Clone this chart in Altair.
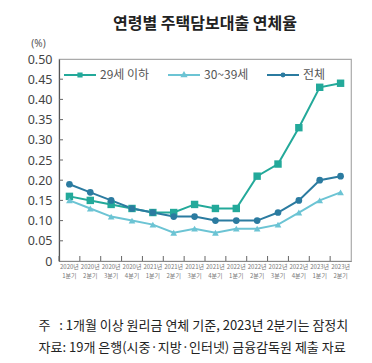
import altair as alt
import pandas as pd

quarters = ["2020년 1분기", "2020년 2분기", "2020년 3분기", "2020년 4분기",
            "2021년 1분기", "2021년 2분기", "2021년 3분기", "2021년 4분기",
            "2022년 1분기", "2022년 2분기", "2022년 3분기", "2022년 4분기",
            "2023년 1분기", "2023년 2분기"]
series_names = ["29세 이하", "30~39세", "전체"]
age_29 = [0.16, 0.15, 0.14, 0.13, 0.12, 0.12, 0.14, 0.13, 0.13, 0.21, 0.24, 0.33, 0.43, 0.44]
age_30s = [0.15, 0.13, 0.11, 0.10, 0.09, 0.07, 0.08, 0.07, 0.08, 0.08, 0.09, 0.12, 0.15, 0.17]
total = [0.19, 0.17, 0.15, 0.13, 0.12, 0.11, 0.11, 0.10, 0.10, 0.10, 0.12, 0.15, 0.20, 0.21]
y_ticks = [0.05, 0.10, 0.15, 0.20, 0.25, 0.30, 0.35, 0.40, 0.45]
y_labels = [0, 0.05, 0.1, 0.15, 0.2, 0.25, 0.3, 0.35, 0.4, 0.45, 0.5]

colors = ["#23a99a", "#6cc4d4", "#2b7ba0"]
plot_shapes = ["square", "triangle-up", "circle"]
plot_sizes = [55, 45, 45]
legend_shapes = [
    "M-1,0H1M-0.1,-0.1H0.1V0.1H-0.1Z",
    "M-1,0H1M0,-0.13L0.12,0.08H-0.12Z",
    "M-1,0H1M0.09,0A0.09,0.09 0 1,1 -0.09,0A0.09,0.09 0 1,1 0.09,0Z",
]

rows = []
for name, vals in zip(series_names, [age_29, age_30s, total]):
    for q, v in zip(quarters, vals):
        rows.append({"q": q, "series": name, "v": v})
df = pd.DataFrame(rows)
qdf = pd.DataFrame({"q": quarters})
tdf = pd.DataFrame({"t": y_ticks})

footnote = ["주\u00a0\u00a0\u00a0: 1개월 이상 원리금 연체 기준, 2023년 2분기는 잠정치",
            "자료: 19개 은행(시중·지방·인터넷) 금융감독원 제출 자료"]

xscale = alt.Scale(domain=quarters, paddingInner=0, paddingOuter=0)
yscale = alt.Scale(domain=[0, 0.5], nice=False)

x_axis = alt.Axis(title=footnote, labelAngle=0, ticks=False,
                  labelExpr="split(datum.label, ' ')",
                  labelFontSize=6, labelColor="#777", labelLineHeight=9.5,
                  labelFont="Noto Sans CJK KR", labelPadding=2,
                  labelOverlap=False,
                  domainColor="#888", domainWidth=1.2,
                  titleFont="Noto Sans CJK KR", titleFontSize=13,
                  titleFontWeight="normal", titleColor="#222",
                  titleAlign="left", titleAnchor="start",
                  titleLineHeight=22, titleX=-21, titlePadding=41)
y_axis = alt.Axis(title="(%)", titleAngle=0, titleX=-21, titleY=-16,
                  titleAlign="center", titleBaseline="middle",
                  titleFontSize=10, titleFontWeight="normal",
                  titleColor="#555", titleFont="Noto Sans",
                  values=y_labels, tickCount=11,
                  labelExpr="datum.value == 0 ? '0' : format(datum.value, '.2f')",
                  labelFontSize=12.5, labelColor="#444", labelFont="Noto Sans",
                  labelPadding=7, ticks=False, grid=False, labelOverlap=False,
                  domainColor="#555", domainWidth=1.2)

color_scale = alt.Scale(domain=series_names, range=colors)
leg = alt.Legend(title=None)

x_enc = alt.X("q:N", scale=xscale, sort=quarters, axis=x_axis)
y_enc = alt.Y("v:Q", scale=yscale, axis=y_axis)
color_enc = alt.Color("series:N", scale=color_scale, legend=leg)

lines = alt.Chart(df).mark_line(strokeWidth=2).encode(
    x=x_enc, y=y_enc, color=color_enc, order=alt.Order("q:N"),
)

point_layers = []
for name, shp, sz in zip(series_names, plot_shapes, plot_sizes):
    point_layers.append(
        alt.Chart(df).transform_filter(alt.datum.series == name).mark_point(
            filled=True, opacity=1, shape=shp, size=sz).encode(
            x=x_enc, y=y_enc, color=color_enc)
    )

legend_layer = alt.Chart(df).transform_filter("datum.v < 0").mark_point(
    filled=False, opacity=1, size=1024, strokeWidth=2).encode(
    x=x_enc, y=y_enc, color=color_enc,
    shape=alt.Shape("series:N", scale=alt.Scale(domain=series_names, range=legend_shapes), legend=leg),
)

xticks = alt.Chart(qdf).mark_rule(color="#666", strokeWidth=1).encode(
    x=alt.X("q:N", scale=xscale, sort=quarters, bandPosition=0, axis=x_axis),
    y=alt.datum(0),
    y2=alt.value(197),
)

yticks = alt.Chart(tdf).mark_rule(color="#666", strokeWidth=1).encode(
    y=alt.Y("t:Q", scale=yscale, axis=y_axis),
    x=alt.value(0),
    x2=alt.value(4),
)

chart = alt.layer(lines, xticks, yticks, *point_layers, legend_layer).properties(
    width=292, height=202,
    title=alt.TitleParams("연령별 주택담보대출 연체율", font="Noto Sans CJK KR",
                          fontSize=16, fontWeight="bold", color="#222", offset=6,
                          anchor="middle"),
    padding={"left": 19, "top": 8, "right": 5, "bottom": 5},
).configure_view(stroke="#aaa", strokeWidth=1.2).configure_axisY(
    labelOverlap=False, labelSeparation=0
).configure_legend(
    orient="none", legendX=4, legendY=-1, direction="horizontal",
    labelFontSize=12, labelColor="#555", labelFont="Noto Sans CJK KR",
    columnPadding=14, labelOffset=3, symbolStrokeWidth=2, symbolSize=1024,
)

chart.save("out.html", embed_options={"renderer": "svg", "actions": False})
